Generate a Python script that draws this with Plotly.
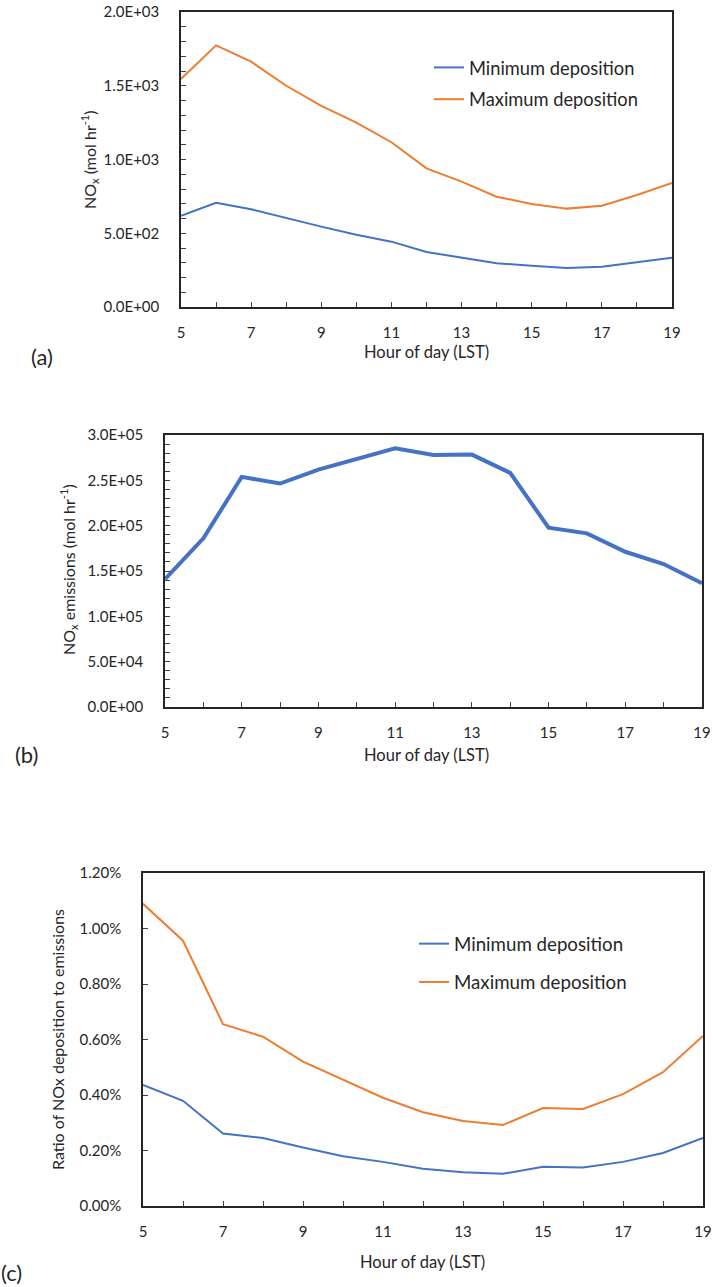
import plotly.graph_objects as go

hours = list(range(5, 20))

# Panel (a): NOx deposition (mol hr-1)
dep_min = [619, 707, 662, 601, 545, 490, 443, 373, 337, 296, 280, 264, 273, 303, 334]
dep_max = [1546, 1774, 1663, 1500, 1363, 1250, 1117, 940, 850, 748, 698, 667, 687, 759, 841]

# Panel (b): NOx emissions (mol hr-1)
emis = [140900, 186000, 253800, 246500, 261900, 274000, 285400, 278000, 278400,
        258200, 197700, 191500, 171200, 157700, 136500]

# Panel (c): ratio of deposition to emissions (fraction)
ratio_min = [0.00436, 0.00379, 0.00261, 0.00245, 0.00211, 0.00179, 0.00159, 0.00134,
             0.00122, 0.00116, 0.00141, 0.00139, 0.00159, 0.00191, 0.00245]
ratio_max = [0.01089, 0.00956, 0.00655, 0.00610, 0.00520, 0.00454, 0.00390, 0.00338,
             0.00306, 0.00292, 0.00353, 0.00350, 0.00403, 0.00482, 0.00613]

x_ticks = [5, 7, 9, 11, 13, 15, 17, 19]
a_ticks = [0, 500, 1000, 1500, 2000]
a_labels = ["0.0E+00", "5.0E+02", "1.0E+03", "1.5E+03", "2.0E+03"]
b_ticks = [0, 50000, 100000, 150000, 200000, 250000, 300000]
b_labels = ["0.0E+00", "5.0E+04", "1.0E+05", "1.5E+05", "2.0E+05", "2.5E+05", "3.0E+05"]
c_ticks = [0, 0.002, 0.004, 0.006, 0.008, 0.010, 0.012]
c_labels = ["0.00%", "0.20%", "0.40%", "0.60%", "0.80%", "1.00%", "1.20%"]

BLUE = "#4472C4"
ORANGE = "#ED7D31"
W, H = 713, 1287
FONT = "Lato"
TXT = "#262626"


def px(x):
    return x / W


def py(y):
    return 1 - y / H


fig = go.Figure()
fig.add_trace(go.Scatter(x=hours, y=dep_min, mode="lines", name="Minimum deposition",
                         line=dict(color=BLUE, width=2), xaxis="x", yaxis="y",
                         legend="legend", legendgroup="a1"))
fig.add_trace(go.Scatter(x=hours, y=dep_max, mode="lines", name="Maximum deposition",
                         line=dict(color=ORANGE, width=2), xaxis="x", yaxis="y",
                         legend="legend", legendgroup="a2"))
fig.add_trace(go.Scatter(x=hours, y=emis, mode="lines", name="NOx emissions",
                         line=dict(color=BLUE, width=4), xaxis="x2", yaxis="y2",
                         showlegend=False))
fig.add_trace(go.Scatter(x=hours, y=ratio_min, mode="lines", name="Minimum deposition",
                         line=dict(color=BLUE, width=2), xaxis="x3", yaxis="y3",
                         legend="legend2", legendgroup="c1"))
fig.add_trace(go.Scatter(x=hours, y=ratio_max, mode="lines", name="Maximum deposition",
                         line=dict(color=ORANGE, width=2), xaxis="x3", yaxis="y3",
                         legend="legend2", legendgroup="c2"))

tickfont = dict(family=FONT, size=15, color=TXT)


def xaxis(dom, anchor):
    return dict(domain=[px(dom[0]), px(dom[1])], anchor=anchor, range=[5, 19],
                tickvals=x_ticks, ticks="inside", ticklen=5, tickcolor="#404040",
                minor=dict(dtick=1, tick0=5, ticks="inside", ticklen=5, tickcolor="#404040"),
                showline=True, linecolor="#262626", linewidth=1.5, mirror=True,
                showgrid=False, zeroline=False, tickfont=tickfont, automargin=False,
                ticklabelstandoff=11)


def yaxis(dom, anchor, rng, tv, tt, minor_dtick=None):
    d = dict(domain=[py(dom[1]), py(dom[0])], anchor=anchor, range=rng,
             tickvals=tv, ticktext=tt, ticks="inside", ticklen=5, tickcolor="#404040",
             showline=True, linecolor="#262626", linewidth=1.5, mirror=True,
             showgrid=False, zeroline=False, tickfont=tickfont, automargin=False,
             ticklabelstandoff=17)
    if minor_dtick:
        d["minor"] = dict(dtick=minor_dtick, tick0=0, ticks="inside", ticklen=5,
                          tickcolor="#404040")
    return d


layout = dict(
    width=W, height=H, margin=dict(l=0, r=0, t=0, b=0),
    paper_bgcolor="white", plot_bgcolor="white",
    font=dict(family=FONT, size=15, color=TXT),
    xaxis=xaxis((181, 672), "y"),
    yaxis=yaxis((12, 307), "x", [0, 2000], a_ticks, a_labels, 100),
    xaxis2=xaxis((165, 702), "y2"),
    yaxis2=yaxis((435, 707), "x2", [0, 300000], b_ticks, b_labels, 10000),
    xaxis3=xaxis((143, 703), "y3"),
    yaxis3=yaxis((873, 1206), "x3", [0, 0.012], c_ticks, c_labels),
    legend=dict(x=px(429), y=py(49), xanchor="left", yanchor="top",
                bgcolor="rgba(0,0,0,0)", font=dict(family=FONT, size=18.3, color=TXT),
                tracegroupgap=5, traceorder="grouped", itemwidth=30),
    legend2=dict(x=px(414), y=py(925), xanchor="left", yanchor="top",
                 bgcolor="rgba(0,0,0,0)", font=dict(family=FONT, size=18.7, color=TXT),
                 tracegroupgap=11, traceorder="grouped", itemwidth=30),
)
fig.update_layout(**layout)

ann = [
    dict(text="Hour of day (LST)", x=px(426), y=py(352), size=16.5),
    dict(text="Hour of day (LST)", x=px(426), y=py(755), size=16.5),
    dict(text="Hour of day (LST)", x=px(423), y=py(1262), size=16.5),
    dict(text="(a)", x=px(42), y=py(356), size=22),
    dict(text="(b)", x=px(26), y=py(754), size=22),
    dict(text="(c)", x=px(11), y=py(1272), size=22),
]
for a in ann:
    fig.add_annotation(text=a["text"], x=a["x"], y=a["y"], xref="paper", yref="paper",
                       showarrow=False, xanchor="center", yanchor="middle",
                       font=dict(family=FONT, size=a["size"], color=TXT))

ytitles = [
    ("NO<sub>x</sub> (mol hr<sup>-1</sup>)", 90, 160),
    ("NO<sub>x</sub> emissions (mol hr<sup>-1</sup>)", 68, 570),
    ("Ratio of NOx deposition to emissions", 57, 1040),
]
for t, xx, yy in ytitles:
    fig.add_annotation(text=t, x=px(xx), y=py(yy), xref="paper", yref="paper",
                       showarrow=False, textangle=-90, xanchor="center", yanchor="middle",
                       font=dict(family=FONT, size=16, color=TXT))

fig.write_html("out.html")
